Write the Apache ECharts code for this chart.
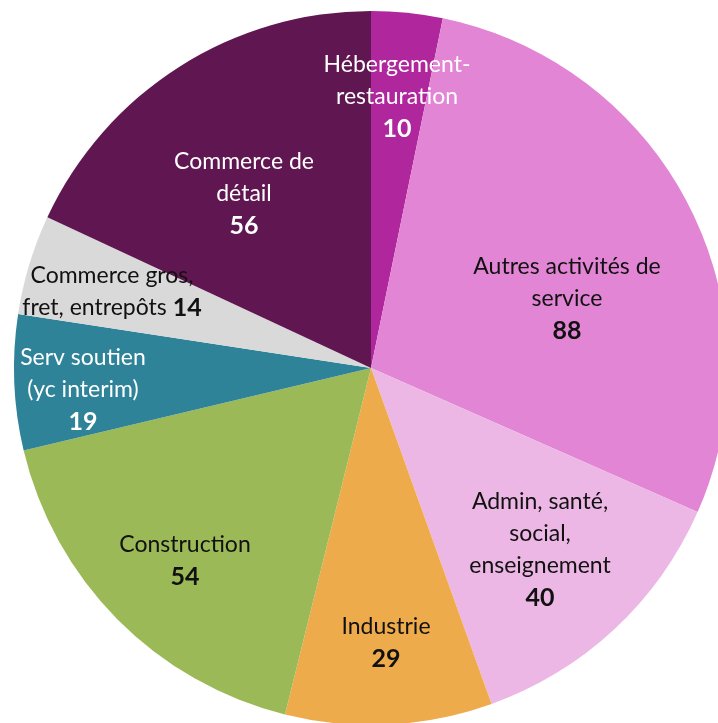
<!DOCTYPE html>
<html>
<head>
<meta charset="utf-8">
<script src="https://cdn.jsdelivr.net/npm/echarts@6/dist/echarts.min.js"></script>
<style>
  html, body { margin: 0; padding: 0; background: #fff; }
  #chartBox { width: 718px; height: 723px; }
</style>
</head>
<body>
<div id="chartBox"></div>
<script>
// secteurs, dans le sens horaire depuis midi
const categories = [
  'Hébergement-\nrestauration',
  'Autres activités de\nservice',
  'Admin, santé,\nsocial,\nenseignement',
  'Industrie',
  'Construction',
  'Serv soutien\n(yc interim)',
  'Commerce gros,\nfret, entrepôts',
  'Commerce de\ndétail'
]
const values = [10, 88, 40, 29, 54, 19, 14, 56]
const colorList = ['#b0269c', '#e285d5', '#ecb7e4', '#eeab4b', '#9bba57', '#2e8399', '#d9d9d9', '#601651']
const textColors = ['#fff', '#111', '#111', '#111', '#111', '#fff', '#111', '#fff']
// centre des étiquettes
const labelPos = [
  [397, 97], [567, 299], [540, 550], [386, 643],
  [185, 561], [83, 390], [112, 292], [244, 194]
]

const chartBox = echarts.init(document.getElementById('chartBox'))

const fmt = (p) => {
  const name = categories[p.dataIndex]
  if (p.dataIndex === 6) {
    const parts = name.split('\n')
    return `{n|${parts[0]}}\n{n|${parts[1]} }{b|${values[p.dataIndex]}}`
  }
  return name.split('\n').map(s => `{n|${s}}`).join('\n') + `\n{b|${values[p.dataIndex]}}`
}

const data = values.map((v, i) => ({
  value: v,
  name: categories[i],
  itemStyle: { color: colorList[i] },
  label: {
    rich: {
      n: { fontSize: 23, fontFamily: 'Lato', color: textColors[i], lineHeight: 32 },
      b: { fontSize: 25, fontFamily: 'Lato', fontWeight: 'bold', color: textColors[i], lineHeight: 32 }
    }
  }
}))

const option = {
  backgroundColor: '#fff',
  animation: false,
  series: [
    {
      type: 'pie',
      center: [371, 368],
      radius: 357,
      startAngle: 90,
      clockwise: true,
      avoidLabelOverlap: false,
      itemStyle: { borderWidth: 0 },
      label: {
        show: true,
        position: 'inside',
        align: 'center',
        formatter: fmt
      },
      labelLine: { show: false },
      labelLayout: (p) => ({
        x: labelPos[p.dataIndex][0],
        y: labelPos[p.dataIndex][1],
        align: 'center',
        verticalAlign: 'middle'
      }),
      data: data
    }
  ]
}

chartBox.setOption(option)
</script>
</body>
</html>
